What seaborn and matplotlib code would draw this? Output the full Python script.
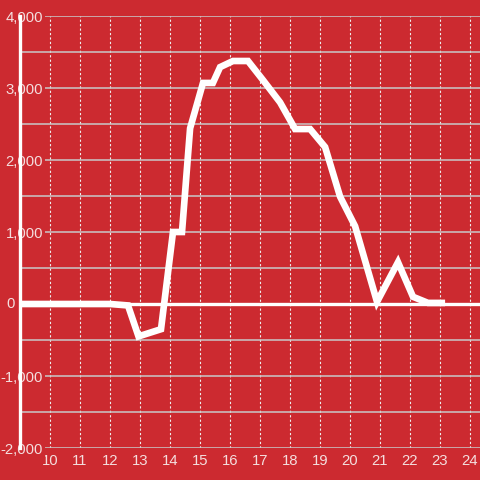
import matplotlib
matplotlib.use("Agg")
import matplotlib.pyplot as plt
import seaborn as sns
import pandas as pd

# hour of day vs. value
hours = [9, 10, 11, 12, 12.6, 12.95, 13.7, 14.1, 14.4, 14.67, 15.1, 15.43, 15.67,
         16.1, 16.6, 17.1, 17.67, 18.17, 18.67, 19.17, 19.67, 20.17, 20.9, 21.6,
         22.1, 22.6, 23.17]
values = [0, 0, 0, 0, -20, -450, -350, 1000, 1000, 2440, 3070, 3070, 3290,
          3375, 3375, 3110, 2800, 2430, 2430, 2180, 1490, 1080, 30, 580,
          100, 15, 15]
x_ticks = list(range(10, 25))
y_ticks = [-2000, -1000, 0, 1000, 2000, 3000, 4000]
y_minor = [-1500, -500, 500, 1500, 2500, 3500]

bg = "#cc2a30"
txt = "#f4dede"
fs = 10.7

sns.set_style("white")
plt.rcParams["font.family"] = ["Liberation Sans", "DejaVu Sans"]
plt.rcParams["axes.unicode_minus"] = False

df = pd.DataFrame({"hour": hours, "value": values})

fig = plt.figure(figsize=(4.8, 4.8), dpi=100, facecolor=bg)
ax = fig.add_axes([20 / 480, 32 / 480, 460 / 480, 432 / 480])
ax.set_facecolor(bg)

sns.lineplot(data=df, x="hour", y="value", ax=ax, color="white", linewidth=4.8,
             solid_capstyle="butt", solid_joinstyle="miter", zorder=3)
ax.axhline(0, color="white", linewidth=2.4, zorder=2.2)

ax.set_xlim(9, 9 + 460 / 30)
ax.set_ylim(-2000, 4000)
ax.set_xticks(x_ticks)
ax.set_yticks(y_ticks)
ax.set_yticks(y_minor, minor=True)
# the zero label sits left of the axis line, drawn separately below
ax.set_yticklabels(["" if v == 0 else f"{v:,}" for v in y_ticks])
ax.set_xlabel("")
ax.set_ylabel("")

ax.grid(axis="y", which="both", color="#c9c9c9", linewidth=1.1)
ax.grid(axis="x", which="major", color="#eeeeee", linewidth=0.8, linestyle=(0, (2, 2)))
ax.tick_params(axis="y", which="both", length=0, pad=-16.5, labelsize=fs, labelcolor=txt)
ax.tick_params(axis="x", length=0, pad=4, labelsize=fs, labelcolor=txt)

for s in ["top", "right", "bottom"]:
    ax.spines[s].set_visible(False)
ax.spines["left"].set_color("white")
ax.spines["left"].set_linewidth(2.4)
ax.spines["left"].set_zorder(1.4)

for lbl in ax.get_yticklabels():
    lbl.set_bbox(dict(facecolor=bg, edgecolor="none", pad=1.5))

ax.text(-5 / 460, 0, "0", transform=ax.get_yaxis_transform(), ha="right", va="center",
        fontsize=fs, color=txt, clip_on=False)

fig.savefig("out.png", dpi=100, facecolor=bg)
